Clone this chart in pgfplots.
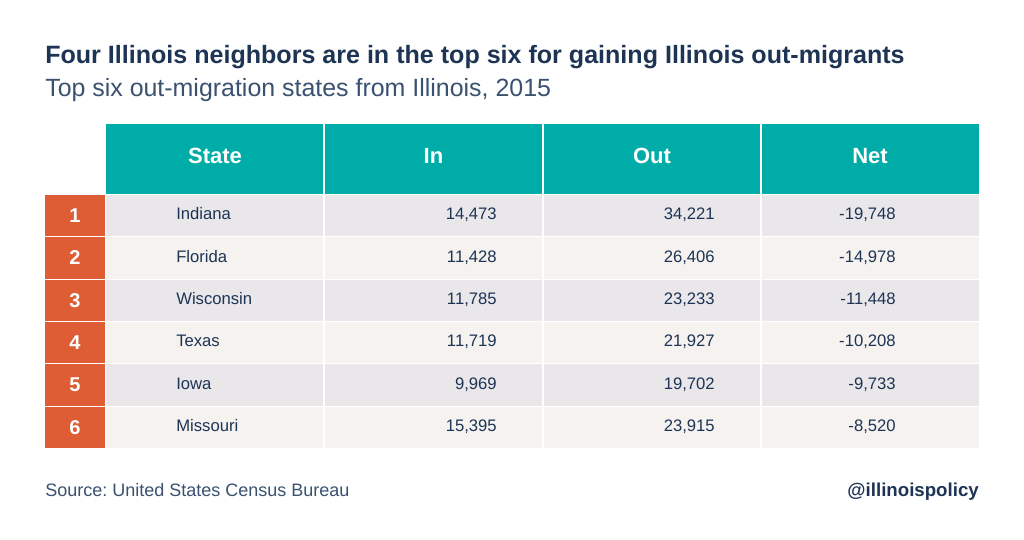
\documentclass[border=0pt]{standalone}
\usepackage{pgfplots}
\usepackage{pgfplotstable}
\pgfplotsset{compat=1.18}
\usepackage{fontspec}
\setmainfont{Liberation Sans}
\frenchspacing
\definecolor{teal1}{HTML}{00ACA7}
\definecolor{orange1}{HTML}{DE5D35}
\definecolor{rowA}{HTML}{E9E7E9}
\definecolor{rowB}{HTML}{F5F2F0}
\definecolor{navy}{HTML}{1D3454}
\definecolor{subc}{HTML}{3A5170}

\pgfplotstableread{
rank state in out net
1 Indiana 14,473 34,221 -19,748
2 Florida 11,428 26,406 -14,978
3 Wisconsin 11,785 23,233 -11,448
4 Texas 11,719 21,927 -10,208
5 Iowa 9,969 19,702 -9,733
6 Missouri 15,395 23,915 -8,520
}\migration

\begin{document}
\frenchspacing
\begin{tikzpicture}
\begin{axis}[
  x=0.75pt, y=0.75pt, y dir=reverse,
  xmin=0, xmax=1024, ymin=0, ymax=539,
  hide axis, clip=false, scale only axis,
]
% background
\fill[white] (axis cs:0,0) rectangle (axis cs:1024,539);
% title
\node[anchor=base west, font=\bfseries\fontsize{18.8}{22}\selectfont, text=navy, inner sep=0]
  at (axis cs:45,63) {Four Illinois neighbors are in the top six for gaining Illinois out-migrants};
\node[anchor=base west, font=\fontsize{18.7}{22}\selectfont, text=subc, inner sep=0]
  at (axis cs:45,96) {Top six out-migration states from Illinois, 2015};
% header
\fill[teal1] (axis cs:106,124) rectangle (axis cs:979,194);
% rows
\fill[rowA] (axis cs:106,195) rectangle (axis cs:979,236.33);
\fill[rowB] (axis cs:106,237.33) rectangle (axis cs:979,278.67);
\fill[rowA] (axis cs:106,279.67) rectangle (axis cs:979,321);
\fill[rowB] (axis cs:106,322) rectangle (axis cs:979,363.33);
\fill[rowA] (axis cs:106,364.33) rectangle (axis cs:979,405.67);
\fill[rowB] (axis cs:106,406.67) rectangle (axis cs:979,448);
% column dividers
\draw[white, line width=0.9pt] (axis cs:324,124) -- (axis cs:324,449);
\draw[white, line width=0.9pt] (axis cs:543,124) -- (axis cs:543,449);
\draw[white, line width=0.9pt] (axis cs:761,124) -- (axis cs:761,449);
% header text
\node[font=\bfseries\fontsize{16.5}{19}\selectfont, text=white, anchor=mid] at (axis cs:215,160) {State};
\node[font=\bfseries\fontsize{16.5}{19}\selectfont, text=white, anchor=mid] at (axis cs:433.5,160) {In};
\node[font=\bfseries\fontsize{16.5}{19}\selectfont, text=white, anchor=mid] at (axis cs:652,160) {Out};
\node[font=\bfseries\fontsize{16.5}{19}\selectfont, text=white, anchor=mid] at (axis cs:870,160) {Net};
% rank boxes
\addplot[draw=none, nodes near coords, point meta=explicit symbolic,
  every node near coord/.append style={fill=orange1, text=white, anchor=center,
    font=\bfseries\fontsize{15}{17}\selectfont, inner sep=0pt,
    minimum width=45pt, minimum height=31pt}]
  table[x expr=75, y expr={195+42.33*(\thisrow{rank}-0.5)-0.5}, meta=rank] {\migration};
% state names
\addplot[draw=none, nodes near coords, point meta=explicit symbolic,
  every node near coord/.append style={text=navy, anchor=mid west,
    font=\fontsize{12.5}{15}\selectfont, inner sep=0pt}]
  table[x expr=176, y expr={195+42.33*(\thisrow{rank}-0.5)}, meta=state] {\migration};
% In
\addplot[draw=none, nodes near coords, point meta=explicit symbolic,
  every node near coord/.append style={text=navy, anchor=mid east,
    font=\fontsize{12.5}{15}\selectfont, inner sep=0pt}]
  table[x expr=497, y expr={195+42.33*(\thisrow{rank}-0.5)}, meta=in] {\migration};
% Out
\addplot[draw=none, nodes near coords, point meta=explicit symbolic,
  every node near coord/.append style={text=navy, anchor=mid east,
    font=\fontsize{12.5}{15}\selectfont, inner sep=0pt}]
  table[x expr=715, y expr={195+42.33*(\thisrow{rank}-0.5)}, meta=out] {\migration};
% Net
\addplot[draw=none, nodes near coords, point meta=explicit symbolic,
  every node near coord/.append style={text=navy, anchor=mid east,
    font=\fontsize{12.5}{15}\selectfont, inner sep=0pt}]
  table[x expr=896, y expr={195+42.33*(\thisrow{rank}-0.5)}, meta=net] {\migration};
% footer
\node[anchor=base west, font=\fontsize{13.5}{16}\selectfont, text=subc, inner sep=0]
  at (axis cs:45,496) {Source: United States Census Bureau};
\node[anchor=base east, font=\bfseries\fontsize{14}{16}\selectfont, text=navy, inner sep=0]
  at (axis cs:979,496) {@illinoispolicy};
\end{axis}
\end{tikzpicture}
\end{document}
